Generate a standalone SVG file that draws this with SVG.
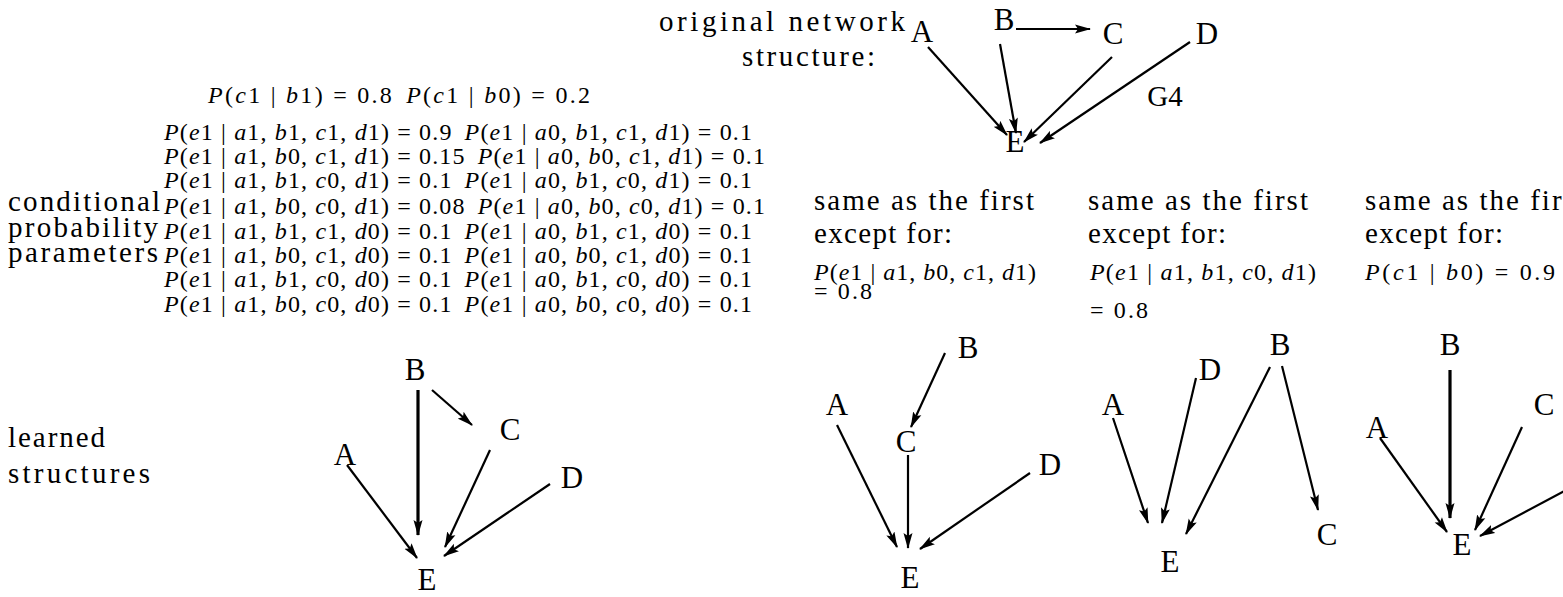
<svg xmlns="http://www.w3.org/2000/svg" width="1563" height="597" viewBox="0 0 1563 597">
<style>
text{font-family:"Liberation Serif","DejaVu Serif",serif;fill:#000}
.lbl{font-size:29px}
.node{font-size:31px;text-anchor:middle}
.row{font-size:24px}
.sm{font-size:24px}
.i{font-style:italic}
.e{stroke:#000;stroke-width:2.2;fill:none;marker-end:url(#ah)}
.t{stroke-width:3.2}
</style>
<defs>
<marker id="ah" markerUnits="userSpaceOnUse" markerWidth="18" markerHeight="10" refX="15" refY="5" orient="auto">
<path d="M0,0.5 L16,5 L0,9.5 L3,5 z" fill="#000"/>
</marker>
</defs>
<rect width="1563" height="597" fill="#fff"/>

<g id="labels">
<text class="lbl" x="905" y="31" text-anchor="end" textLength="246">original network</text>
<text class="lbl" x="875" y="66" text-anchor="end" textLength="133">structure:</text>
<text class="lbl" x="8" y="211" textLength="152">conditional</text>
<text class="lbl" x="8" y="237" textLength="150">probability</text>
<text class="lbl" x="8" y="262" textLength="150">parameters</text>
<text class="lbl" x="8" y="447" textLength="97">learned</text>
<text class="lbl" x="8" y="483" textLength="142">structures</text>
</g>

<g id="cpt">
<text class="row" x="208" y="103" textLength="382"><tspan class="i">P</tspan>(<tspan class="i">c</tspan>1 | <tspan class="i">b</tspan>1) = 0.8<tspan class="i" dx="12">P</tspan>(<tspan class="i">c</tspan>1 | <tspan class="i">b</tspan>0) = 0.2</text>
<text class="row" x="164" y="140" textLength="588"><tspan class="i">P</tspan>(<tspan class="i">e</tspan>1 | <tspan class="i">a</tspan>1, <tspan class="i">b</tspan>1, <tspan class="i">c</tspan>1, <tspan class="i">d</tspan>1) = 0.9<tspan class="i" dx="12">P</tspan>(<tspan class="i">e</tspan>1 | <tspan class="i">a</tspan>0, <tspan class="i">b</tspan>1, <tspan class="i">c</tspan>1, <tspan class="i">d</tspan>1) = 0.1</text>
<text class="row" x="164" y="164" textLength="601"><tspan class="i">P</tspan>(<tspan class="i">e</tspan>1 | <tspan class="i">a</tspan>1, <tspan class="i">b</tspan>0, <tspan class="i">c</tspan>1, <tspan class="i">d</tspan>1) = 0.15<tspan class="i" dx="12">P</tspan>(<tspan class="i">e</tspan>1 | <tspan class="i">a</tspan>0, <tspan class="i">b</tspan>0, <tspan class="i">c</tspan>1, <tspan class="i">d</tspan>1) = 0.1</text>
<text class="row" x="164" y="188" textLength="588"><tspan class="i">P</tspan>(<tspan class="i">e</tspan>1 | <tspan class="i">a</tspan>1, <tspan class="i">b</tspan>1, <tspan class="i">c</tspan>0, <tspan class="i">d</tspan>1) = 0.1<tspan class="i" dx="12">P</tspan>(<tspan class="i">e</tspan>1 | <tspan class="i">a</tspan>0, <tspan class="i">b</tspan>1, <tspan class="i">c</tspan>0, <tspan class="i">d</tspan>1) = 0.1</text>
<text class="row" x="164" y="214" textLength="601"><tspan class="i">P</tspan>(<tspan class="i">e</tspan>1 | <tspan class="i">a</tspan>1, <tspan class="i">b</tspan>0, <tspan class="i">c</tspan>0, <tspan class="i">d</tspan>1) = 0.08<tspan class="i" dx="12">P</tspan>(<tspan class="i">e</tspan>1 | <tspan class="i">a</tspan>0, <tspan class="i">b</tspan>0, <tspan class="i">c</tspan>0, <tspan class="i">d</tspan>1) = 0.1</text>
<text class="row" x="164" y="239" textLength="588"><tspan class="i">P</tspan>(<tspan class="i">e</tspan>1 | <tspan class="i">a</tspan>1, <tspan class="i">b</tspan>1, <tspan class="i">c</tspan>1, <tspan class="i">d</tspan>0) = 0.1<tspan class="i" dx="12">P</tspan>(<tspan class="i">e</tspan>1 | <tspan class="i">a</tspan>0, <tspan class="i">b</tspan>1, <tspan class="i">c</tspan>1, <tspan class="i">d</tspan>0) = 0.1</text>
<text class="row" x="164" y="263" textLength="588"><tspan class="i">P</tspan>(<tspan class="i">e</tspan>1 | <tspan class="i">a</tspan>1, <tspan class="i">b</tspan>0, <tspan class="i">c</tspan>1, <tspan class="i">d</tspan>0) = 0.1<tspan class="i" dx="12">P</tspan>(<tspan class="i">e</tspan>1 | <tspan class="i">a</tspan>0, <tspan class="i">b</tspan>0, <tspan class="i">c</tspan>1, <tspan class="i">d</tspan>0) = 0.1</text>
<text class="row" x="164" y="287" textLength="588"><tspan class="i">P</tspan>(<tspan class="i">e</tspan>1 | <tspan class="i">a</tspan>1, <tspan class="i">b</tspan>1, <tspan class="i">c</tspan>0, <tspan class="i">d</tspan>0) = 0.1<tspan class="i" dx="12">P</tspan>(<tspan class="i">e</tspan>1 | <tspan class="i">a</tspan>0, <tspan class="i">b</tspan>1, <tspan class="i">c</tspan>0, <tspan class="i">d</tspan>0) = 0.1</text>
<text class="row" x="164" y="312" textLength="588"><tspan class="i">P</tspan>(<tspan class="i">e</tspan>1 | <tspan class="i">a</tspan>1, <tspan class="i">b</tspan>0, <tspan class="i">c</tspan>0, <tspan class="i">d</tspan>0) = 0.1<tspan class="i" dx="12">P</tspan>(<tspan class="i">e</tspan>1 | <tspan class="i">a</tspan>0, <tspan class="i">b</tspan>0, <tspan class="i">c</tspan>0, <tspan class="i">d</tspan>0) = 0.1</text>
</g>

<g id="panel1">
<text class="lbl" x="814" y="210" textLength="220">same as the first</text>
<text class="lbl" x="814" y="243" textLength="138">except for:</text>
<text class="sm" x="814" y="280" textLength="222"><tspan class="i">P</tspan>(<tspan class="i">e</tspan>1 | <tspan class="i">a</tspan>1, <tspan class="i">b</tspan>0, <tspan class="i">c</tspan>1, <tspan class="i">d</tspan>1)</text>
<text class="sm" x="814" y="299" textLength="58">= 0.8</text>
</g>
<g id="panel2">
<text class="lbl" x="1088" y="210" textLength="220">same as the first</text>
<text class="lbl" x="1088" y="243" textLength="138">except for:</text>
<text class="sm" x="1090" y="280" textLength="226"><tspan class="i">P</tspan>(<tspan class="i">e</tspan>1 | <tspan class="i">a</tspan>1, <tspan class="i">b</tspan>1, <tspan class="i">c</tspan>0, <tspan class="i">d</tspan>1)</text>
<text class="sm" x="1090" y="318" textLength="58">= 0.8</text>
</g>
<g id="panel3">
<text class="lbl" x="1365" y="210" textLength="220">same as the first</text>
<text class="lbl" x="1365" y="243" textLength="138">except for:</text>
<text class="sm" x="1365" y="280" textLength="190"><tspan class="i">P</tspan>(<tspan class="i">c</tspan>1 | <tspan class="i">b</tspan>0) = 0.9</text>
</g>

<g id="original-graph">
<g id="oA"><text class="node" x="922" y="42">A</text></g>
<g id="oB"><text class="node" x="1004" y="30">B</text></g>
<g id="oC"><text class="node" x="1113" y="44">C</text></g>
<g id="oD"><text class="node" x="1207" y="44">D</text></g>
<g id="oE"><text class="node" x="1015" y="152">E</text></g>
<g id="oG4"><text class="lbl" x="1165" y="106" text-anchor="middle">G4</text></g>
</g>

<g id="learned1">
<g id="l1B"><text class="node" x="415" y="380">B</text></g>
<g id="l1C"><text class="node" x="510" y="440">C</text></g>
<g id="l1A"><text class="node" x="345" y="465">A</text></g>
<g id="l1D"><text class="node" x="572" y="488">D</text></g>
<g id="l1E"><text class="node" x="427" y="590">E</text></g>
</g>
<g id="learned2">
<g id="l2B"><text class="node" x="968" y="358">B</text></g>
<g id="l2A"><text class="node" x="837" y="415">A</text></g>
<g id="l2C"><text class="node" x="906" y="452">C</text></g>
<g id="l2D"><text class="node" x="1050" y="475">D</text></g>
<g id="l2E"><text class="node" x="910" y="588">E</text></g>
</g>
<g id="learned3">
<g id="l3A"><text class="node" x="1113" y="415">A</text></g>
<g id="l3D"><text class="node" x="1210" y="380">D</text></g>
<g id="l3B"><text class="node" x="1280" y="355">B</text></g>
<g id="l3E"><text class="node" x="1170" y="572">E</text></g>
<g id="l3C"><text class="node" x="1327" y="545">C</text></g>
</g>
<g id="learned4">
<g id="l4B"><text class="node" x="1450" y="355">B</text></g>
<g id="l4A"><text class="node" x="1377" y="438">A</text></g>
<g id="l4C"><text class="node" x="1544" y="415">C</text></g>
<g id="l4E"><text class="node" x="1462" y="555">E</text></g>
</g>

<g id="connectors">
<line class="e" x1="1016" y1="29" x2="1090" y2="29"/>
<line class="e" x1="928" y1="47" x2="1007" y2="135"/>
<line class="e" x1="1000" y1="44" x2="1016" y2="133"/>
<line class="e" x1="1112" y1="57" x2="1024" y2="142"/>
<line class="e" x1="1190" y1="42" x2="1040" y2="143"/>

<line class="e t" x1="418" y1="390" x2="418" y2="535"/>
<line class="e" x1="432" y1="390" x2="472" y2="425"/>
<line class="e" x1="347" y1="465" x2="417" y2="558"/>
<line class="e" x1="490" y1="450" x2="445" y2="547"/>
<line class="e" x1="550" y1="484" x2="444" y2="556"/>

<line class="e" x1="945" y1="353" x2="911" y2="427"/>
<line class="e" x1="837" y1="425" x2="897" y2="547"/>
<line class="e" x1="908" y1="455" x2="908" y2="548"/>
<line class="e" x1="1030" y1="473" x2="920" y2="549"/>

<line class="e" x1="1113" y1="418" x2="1148" y2="523"/>
<line class="e" x1="1196" y1="378" x2="1162" y2="523"/>
<line class="e" x1="1270" y1="367" x2="1186" y2="534"/>
<line class="e" x1="1282" y1="366" x2="1318" y2="510"/>

<line class="e t" x1="1450" y1="370" x2="1450" y2="518"/>
<line class="e" x1="1380" y1="438" x2="1447" y2="532"/>
<line class="e" x1="1522" y1="427" x2="1475" y2="530"/>
<line class="e" x1="1570" y1="488" x2="1480" y2="536"/>
</g>
</svg>
